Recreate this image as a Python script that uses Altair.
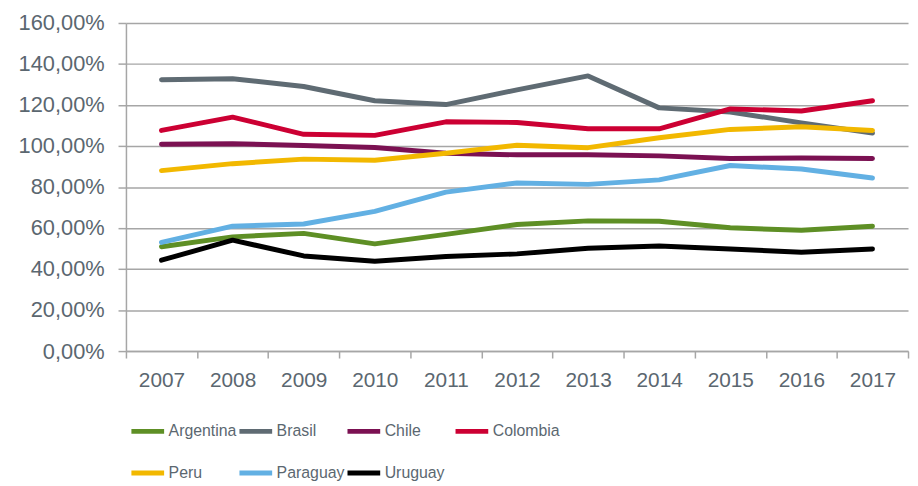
import altair as alt
import pandas as pd

years = [str(y) for y in range(2007, 2018)]
countries = ["Argentina", "Brasil", "Chile", "Colombia", "Peru", "Paraguay", "Uruguay"]
colors = ["#5e8f25", "#5f6b73", "#7b1152", "#cc0033", "#f2b800", "#62b0e3", "#000000"]

argentina = [50.9, 55.7, 57.4, 52.3, 56.9, 61.7, 63.5, 63.3, 60.1, 58.9, 60.9]
brasil = [132.3, 132.8, 129.0, 122.1, 120.2, 127.4, 134.2, 118.6, 116.6, 111.3, 106.3]
chile = [100.9, 101.1, 100.3, 99.3, 96.5, 95.7, 95.7, 95.2, 93.9, 94.2, 93.9]
colombia = [107.6, 114.1, 105.7, 105.2, 111.8, 111.5, 108.4, 108.4, 118.1, 117.1, 122.1]
peru = [88.0, 91.4, 93.6, 93.1, 96.5, 100.4, 99.2, 104.0, 108.1, 109.4, 107.6]
paraguay = [53.0, 60.9, 62.0, 68.1, 77.5, 82.0, 81.3, 83.5, 90.5, 88.8, 84.4]
uruguay = [44.3, 54.1, 46.4, 43.8, 46.1, 47.4, 50.1, 51.2, 49.8, 48.2, 49.8]

series = [argentina, brasil, chile, colombia, peru, paraguay, uruguay]
rows = []
for c, vals in zip(countries, series):
    for y, v in zip(years, vals):
        rows.append({"country": c, "year": y, "value": v})
df = pd.DataFrame(rows)

text_color = "#5b6770"
grid_color = "#a6a6a6"

chart = alt.Chart(df).mark_line(
    strokeWidth=5, strokeCap="round", strokeJoin="round"
).encode(
    x=alt.X(
        "year:O",
        sort=years,
        bandPosition=0.5,
        scale=alt.Scale(type="band", paddingInner=0, paddingOuter=0),
        axis=alt.Axis(
            title=None, labelAngle=0, tickBand="extent", grid=False,
            domainColor=grid_color, domainWidth=1.5, tickColor=grid_color,
            tickWidth=1.5, tickSize=7, labelFontSize=21, labelColor=text_color,
            labelFont="Liberation Sans", labelPadding=12,
        ),
    ),
    y=alt.Y(
        "value:Q",
        scale=alt.Scale(domain=[0, 160]),
        axis=alt.Axis(
            title=None, values=list(range(0, 161, 20)),
            labelExpr="replace(format(datum.value, '.2f'), '.', ',') + '%'",
            grid=True, gridColor=grid_color, gridWidth=1.5,
            domainColor=grid_color, domainWidth=1.5, tickColor=grid_color,
            tickWidth=1.5, tickSize=8, labelFontSize=22, labelColor=text_color,
            labelFont="Liberation Sans", labelPadding=14,
        ),
    ),
    color=alt.Color(
        "country:N",
        sort=countries,
        scale=alt.Scale(domain=countries, range=colors),
        legend=alt.Legend(
            title=None, orient="none", legendX=3, legendY=393,
            direction="horizontal", columns=4, gridAlign="all",
            symbolType="stroke", symbolSize=1089, symbolStrokeWidth=5,
            labelFontSize=16, labelFont="Liberation Sans",
            labelColor=text_color, labelOffset=2, columnPadding=-10,
            rowPadding=13, padding=0,
        ),
    ),
).properties(
    width=789, height=331, autosize="none",
    padding={"left": 119, "top": 13, "right": 2, "bottom": 134},
).configure_view(stroke=None)

chart.save("out.html", embed_options={"renderer": "svg", "actions": False})
